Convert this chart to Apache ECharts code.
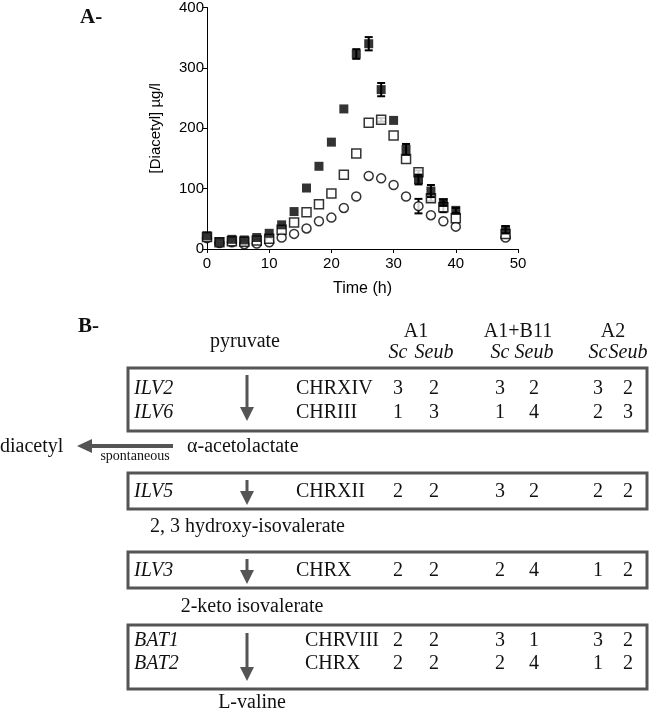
<!DOCTYPE html>
<html>
<head>
<meta charset="utf-8">
<script src="https://cdn.jsdelivr.net/npm/echarts@6/dist/echarts.min.js"></script>
<style>
  html, body { margin: 0; padding: 0; background: #fff; }
  #chart { width: 650px; height: 710px; }
</style>
</head>
<body>
<div id="chart"></div>
<script>
// panel A: diacetyl over time
const hours = [0, 2, 4, 6, 8, 10, 12, 14, 16, 18, 20, 22, 24, 26, 28, 30, 32, 34, 36, 38, 40, 48];
const filledSquares = [22, 12, 16, 15, 19, 26, 40, 62, 101, 137, 177, 232, 323, 340, 264, 213, 165, 115, 96, 77, 64, 32];
const filledErr     = [0, 0, 0, 0, 0, 0, 0, 0, 0, 0, 0, 0, 8, 11, 11, 0, 9, 8, 10, 5, 4, 6];
const openSquares   = [20, 11, 13, 12, 14, 17, 32, 44, 61, 74, 92, 123, 158, 209, 214, 188, 149, 127, 84, 69, 51, 25];
const openSqErr     = [0, 0, 0, 0, 0, 0, 0, 0, 0, 0, 0, 0, 0, 0, 3, 0, 0, 3, 5, 8, 0, 0];
const openCircles   = [18, 10, 11, 8, 9, 11, 19, 25, 34, 46, 52, 68, 87, 121, 117, 106, 87, 71, 56, 46, 37, 19];
const openCircErr   = [0, 0, 0, 0, 0, 0, 0, 0, 0, 0, 0, 0, 0, 0, 0, 0, 0, 12, 0, 0, 0, 0];

// panel B: pathway and copy numbers
const hybrids = ['A1', 'A1+B11', 'A2'];
const subgenomes = ['Sc', 'Seub'];
const metabolites = ['pyruvate', 'α-acetolactate', '2, 3 hydroxy-isovalerate', '2-keto isovalerate', 'L-valine'];
const genes = ['ILV2', 'ILV6', 'ILV5', 'ILV3', 'BAT1', 'BAT2'];
const chromosomes = ['CHRXIV', 'CHRIII', 'CHRXII', 'CHRX', 'CHRVIII', 'CHRX'];
const copyRows = [
  [3, 2, 3, 2, 3, 2],
  [1, 3, 1, 4, 2, 3],
  [2, 2, 3, 2, 2, 2],
  [2, 2, 2, 4, 1, 2],
  [2, 2, 3, 1, 3, 2],
  [2, 2, 2, 4, 1, 2]
];

function pairs(ys) {
  return hours.map((h, i) => [h, ys[i]]);
}
function errData(ys, errs) {
  const out = [];
  hours.forEach((h, i) => {
    if (errs[i] > 0) out.push([h, ys[i] - errs[i], ys[i] + errs[i]]);
  });
  return out;
}
function errorSeries(ys, errs, z) {
  return {
    type: 'custom',
    z: z,
    data: errData(ys, errs),
    renderItem: function (params, api) {
      const lo = api.coord([api.value(0), api.value(1)]);
      const hi = api.coord([api.value(0), api.value(2)]);
      const st = { stroke: '#000', lineWidth: 2 };
      return {
        type: 'group',
        children: [
          { type: 'line', shape: { x1: lo[0], y1: lo[1], x2: hi[0], y2: hi[1] }, style: st },
          { type: 'line', shape: { x1: lo[0] - 4, y1: lo[1], x2: lo[0] + 4, y2: lo[1] }, style: st },
          { type: 'line', shape: { x1: hi[0] - 4, y1: hi[1], x2: hi[0] + 4, y2: hi[1] }, style: st }
        ]
      };
    }
  };
}

// ---- diagram drawing helpers ----
const SERIF = '"Liberation Serif", "DejaVu Serif", serif';
const GREY = '#555';
function txt(s, x, y, font, align) {
  return {
    type: 'text', z: 10,
    style: {
      text: s, x: x, y: y, font: font, fill: '#111',
      textAlign: align || 'left', align: align || 'left',
      textVerticalAlign: 'middle', verticalAlign: 'middle'
    }
  };
}
function box(x1, y1, x2, y2) {
  return {
    type: 'rect', z: 5,
    shape: { x: x1, y: y1, width: x2 - x1, height: y2 - y1 },
    style: { fill: 'none', stroke: GREY, lineWidth: 3 }
  };
}
function downArrow(x, y1, y2) {
  return [
    { type: 'line', z: 5, shape: { x1: x, y1: y1, x2: x, y2: y2 - 12 }, style: { stroke: GREY, lineWidth: 3 } },
    { type: 'polygon', z: 5, shape: { points: [[x - 7, y2 - 14], [x + 7, y2 - 14], [x, y2]] }, style: { fill: GREY } }
  ];
}

const graphics = [];
graphics.push(txt('A-', 80, 18, 'bold 21px ' + SERIF));
graphics.push(txt('B-', 78, 327, 'bold 21px ' + SERIF));

// headers
const hybridX = [416, 518, 613];
const numX = [398, 434, 500, 534, 598, 628];
hybrids.forEach((h, i) => graphics.push(txt(h, hybridX[i], 332, '20px ' + SERIF, 'center')));
numX.forEach((x, i) => graphics.push(txt(subgenomes[i % 2], x, 353, 'italic 20px ' + SERIF, 'center')));

// boxes and arrows
const boxY = [[368, 431], [473, 509], [552, 588], [625, 689]];
const arrowY = [[375, 421], [480, 505], [559, 584], [633, 681]];
boxY.forEach(b => graphics.push(box(128, b[0], 647, b[1])));
arrowY.forEach(a => downArrow(247, a[0], a[1]).forEach(e => graphics.push(e)));

// gene rows
const rowY = [389, 413, 492, 571, 641, 664];
const chrX = [296, 296, 296, 296, 305, 305];
genes.forEach((g, i) => {
  graphics.push(txt(g, 134, rowY[i], 'italic 20px ' + SERIF));
  graphics.push(txt(chromosomes[i], chrX[i], rowY[i], '20px ' + SERIF));
  copyRows[i].forEach((v, j) => graphics.push(txt(String(v), numX[j], rowY[i], '20px ' + SERIF, 'center')));
});

// metabolites
graphics.push(txt(metabolites[0], 210, 342, '20px ' + SERIF));
graphics.push(txt(metabolites[1], 187, 447, '20px ' + SERIF));
graphics.push(txt(metabolites[2], 150, 527, '20px ' + SERIF));
graphics.push(txt(metabolites[3], 252, 607, '20px ' + SERIF, 'center'));
graphics.push(txt(metabolites[4], 252, 703, '20px ' + SERIF, 'center'));

// spontaneous branch to diacetyl
graphics.push(txt('diacetyl', 0, 447, '20px ' + SERIF));
graphics.push({ type: 'line', z: 5, shape: { x1: 173, y1: 446, x2: 90, y2: 446 }, style: { stroke: GREY, lineWidth: 4 } });
graphics.push({ type: 'polygon', z: 5, shape: { points: [[92, 439], [92, 453], [77, 446]] }, style: { fill: GREY } });
graphics.push(txt('spontaneous', 135, 456, '14px ' + SERIF, 'center'));

const chart = echarts.init(document.getElementById('chart'));
const axisFont = '"Liberation Sans", Arial, sans-serif';
chart.setOption({
  animation: false,
  backgroundColor: '#fff',
  grid: { left: 207, top: 6, width: 311, height: 243 },
  xAxis: {
    type: 'value', min: 0, max: 50, interval: 10,
    name: 'Time (h)', nameLocation: 'middle', nameGap: 32,
    nameTextStyle: { fontFamily: axisFont, fontSize: 16, color: '#000' },
    axisLine: { lineStyle: { color: '#000', width: 1 } },
    axisTick: { show: true, length: 4, lineStyle: { color: '#000' } },
    axisLabel: { fontFamily: axisFont, fontSize: 15, color: '#000', margin: 7 },
    splitLine: { show: false }
  },
  yAxis: {
    type: 'value', min: 0, max: 400, interval: 100,
    name: '[Diacetyl] µg/l', nameLocation: 'middle', nameGap: 44, nameRotate: 90,
    nameTextStyle: { fontFamily: axisFont, fontSize: 15, color: '#000' },
    axisLine: { show: true, lineStyle: { color: '#000', width: 1 } },
    axisTick: { show: true, length: 4, lineStyle: { color: '#000' } },
    axisLabel: { fontFamily: axisFont, fontSize: 15, color: '#000', margin: 3 },
    splitLine: { show: false }
  },
  series: [
    errorSeries(openCircles, openCircErr, 1),
    { type: 'scatter', z: 2, data: pairs(openCircles), symbol: 'circle', symbolSize: 9,
      itemStyle: { color: '#fff', borderColor: '#000', borderWidth: 1.5 } },
    errorSeries(openSquares, openSqErr, 3),
    { type: 'scatter', z: 4, data: pairs(openSquares), symbol: 'rect', symbolSize: 9,
      itemStyle: { color: '#fff', borderColor: '#000', borderWidth: 1.5 } },
    errorSeries(filledSquares, filledErr, 5),
    { type: 'scatter', z: 6, data: pairs(filledSquares), symbol: 'rect', symbolSize: 9,
      itemStyle: { color: '#000' } }
  ],
  graphic: { elements: graphics }
});
</script>
</body>
</html>
